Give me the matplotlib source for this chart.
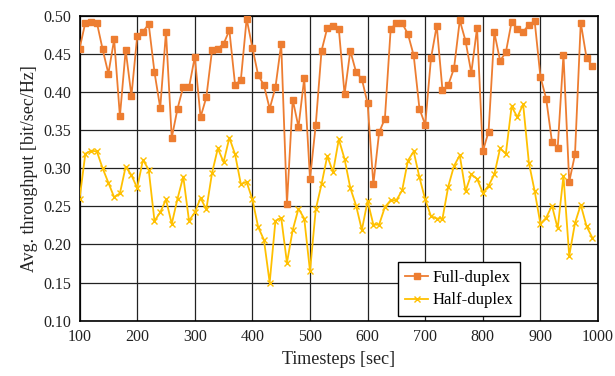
import numpy as np
import matplotlib
matplotlib.use('Agg')
import matplotlib.pyplot as plt

# time axis, one sample every 10 sec
timesteps = list(range(100, 1000, 10))

full_duplex = [
    0.457, 0.491, 0.492, 0.491, 0.456, 0.424, 0.469, 0.368, 0.455, 0.395,
    0.473, 0.479, 0.489, 0.426, 0.379, 0.479, 0.340, 0.378, 0.407, 0.406,
    0.446, 0.367, 0.393, 0.455, 0.457, 0.463, 0.481, 0.409, 0.416, 0.496,
    0.458, 0.422, 0.409, 0.378, 0.406, 0.463, 0.253, 0.390, 0.354, 0.418,
    0.286, 0.357, 0.454, 0.484, 0.487, 0.483, 0.397, 0.454, 0.426, 0.417,
    0.385, 0.279, 0.347, 0.365, 0.482, 0.491, 0.490, 0.476, 0.448, 0.378,
    0.357, 0.444, 0.487, 0.402, 0.409, 0.431, 0.494, 0.467, 0.425, 0.484,
    0.322, 0.348, 0.478, 0.441, 0.452, 0.492, 0.483, 0.479, 0.488, 0.493,
    0.420, 0.391, 0.335, 0.327, 0.449, 0.282, 0.318, 0.491, 0.445, 0.434,
]

half_duplex = [
    0.260, 0.319, 0.323, 0.322, 0.300, 0.281, 0.262, 0.267, 0.302, 0.291,
    0.274, 0.311, 0.298, 0.231, 0.242, 0.259, 0.227, 0.260, 0.289, 0.231,
    0.242, 0.261, 0.246, 0.294, 0.326, 0.308, 0.340, 0.318, 0.279, 0.282,
    0.259, 0.223, 0.206, 0.150, 0.231, 0.235, 0.176, 0.219, 0.247, 0.234,
    0.165, 0.246, 0.279, 0.316, 0.295, 0.338, 0.312, 0.274, 0.251, 0.219,
    0.257, 0.226, 0.226, 0.249, 0.258, 0.258, 0.271, 0.310, 0.322, 0.288,
    0.259, 0.237, 0.234, 0.234, 0.276, 0.303, 0.317, 0.270, 0.292, 0.286,
    0.268, 0.277, 0.292, 0.326, 0.319, 0.381, 0.367, 0.384, 0.307, 0.270,
    0.227, 0.235, 0.251, 0.221, 0.290, 0.185, 0.228, 0.252, 0.224, 0.209,
]

x_ticks = list(range(100, 1001, 100))
y_ticks = [0.10, 0.15, 0.20, 0.25, 0.30, 0.35, 0.40, 0.45, 0.50]

plt.rcParams['font.family'] = ['Liberation Serif', 'DejaVu Serif']

fig = plt.figure(figsize=(6.15, 3.76), dpi=100)
ax = fig.add_axes([0.1294, 0.147, 0.843, 0.8112])

ax.plot(timesteps, full_duplex, color='#ED7D31', linewidth=1.3, marker='s',
        markersize=4, label='Full-duplex', zorder=3)
ax.plot(timesteps, half_duplex, color='#FFC000', linewidth=1.3, marker='x',
        markersize=4, markeredgewidth=1.0, label='Half-duplex', zorder=3)

ax.set_xlim(100, 1000)
ax.set_ylim(0.10, 0.50)
ax.set_xticks(x_ticks)
ax.set_yticks(y_ticks)
ax.set_yticklabels(['%.2f' % v for v in y_ticks])
ax.tick_params(axis='both', labelsize=11.5, length=0, pad=6, colors='#222222')

ax.grid(True, color='#222222', linewidth=0.9)
ax.set_axisbelow(True)
for s in ax.spines.values():
    s.set_color('black')
    s.set_linewidth(1.2)

ax.set_xlabel('Timesteps [sec]', fontsize=13, color='#222222')
ax.set_ylabel('Avg. throughput [bit/sec/Hz]', fontsize=13, color='#222222')

leg = ax.legend(loc='lower left', bbox_to_anchor=(0.614, 0.016), borderaxespad=0,
                fancybox=False, framealpha=1, edgecolor='black', fontsize=12,
                handlelength=1.35, handletextpad=0.25, borderpad=0.45,
                labelspacing=0.4)
leg.get_frame().set_linewidth(1.0)

fig.savefig('out.png', dpi=100)
